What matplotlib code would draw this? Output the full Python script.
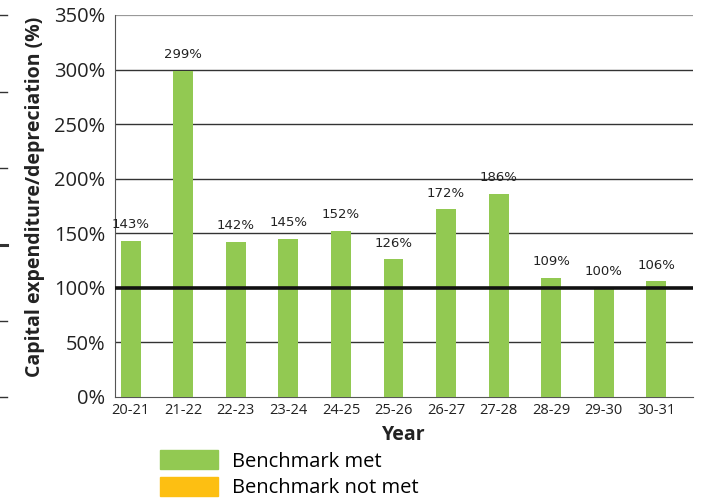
import matplotlib
matplotlib.use("Agg")
import matplotlib.pyplot as plt
from matplotlib.patches import Patch
from matplotlib.lines import Line2D

years = ["20-21", "21-22", "22-23", "23-24", "24-25", "25-26",
         "26-27", "27-28", "28-29", "29-30", "30-31"]
ratio = [143, 299, 142, 145, 152, 126, 172, 186, 109, 100, 106]
benchmark = 100

GREEN = "#92c952"
ORANGE = "#fdbf12"

plt.rcParams["font.family"] = ["Open Sans", "DejaVu Sans"]

fig = plt.figure(figsize=(7.02, 5.0), dpi=100)
ax = fig.add_axes([115 / 702, 1 - 397 / 500, 578 / 702, 382 / 500])

x = range(len(years))
colors = [GREEN if v >= benchmark else ORANGE for v in ratio]
ax.bar(x, ratio, width=0.38, color=colors, zorder=3)

for i, v in enumerate(ratio):
    ax.annotate(f"{v}%", (i, v), xytext=(0, 7), textcoords="offset points",
                ha="center", va="bottom", fontsize=9.5, color="#222222",
                family=["Liberation Sans Narrow", "DejaVu Sans"])

# horizontal grid, with the benchmark line drawn heavier
for y in [50, 150, 200, 250, 300]:
    ax.axhline(y, color="#333333", lw=1.0, zorder=1)
ax.axhline(350, color="#999999", lw=1.6, zorder=1)
ax.axhline(benchmark, color="#111111", lw=2.6, zorder=4)

ax.set_xlim(-0.3, 10.7)
ax.set_ylim(0, 350)
ax.set_yticks(range(0, 351, 50))
ax.set_yticklabels([f"{t}%" for t in range(0, 351, 50)], fontsize=14.5, color="#222222")
ax.set_xticks(list(x))
ax.set_xticklabels(years, fontsize=10.5, color="#222222")
ax.tick_params(axis="y", length=0, pad=7)
ax.tick_params(axis="x", length=0, pad=4)

for s in ["top", "right"]:
    ax.spines[s].set_visible(False)
ax.spines["left"].set_color("#555555")
ax.spines["bottom"].set_color("#555555")

ax.set_ylabel("Capital expenditure/depreciation (%)", fontsize=14,
              fontweight="bold", color="#222222")
ax.yaxis.set_label_coords(-0.121, 0.525)
ax.set_xlabel("Year", fontsize=14, fontweight="bold", color="#222222", labelpad=5)

# short tick stubs along the left edge
for yp, lw in [(15, 1), (92, 1), (168, 1), (245, 2.2), (321, 1), (397, 1)]:
    fig.add_artist(Line2D([0, 7 / 702], [1 - yp / 500] * 2, color="#333333", lw=lw))

handles = [Patch(color=GREEN), Patch(color=ORANGE)]
fig.legend(handles, ["Benchmark met", "Benchmark not met"], loc="upper left",
           bbox_to_anchor=(160 / 702, 1 - 450 / 500), frameon=False, fontsize=14.5,
           borderpad=0, borderaxespad=0, handlelength=2.9, handleheight=1.1,
           labelspacing=0.25, handletextpad=0.7)

fig.savefig("out.png", dpi=100)
